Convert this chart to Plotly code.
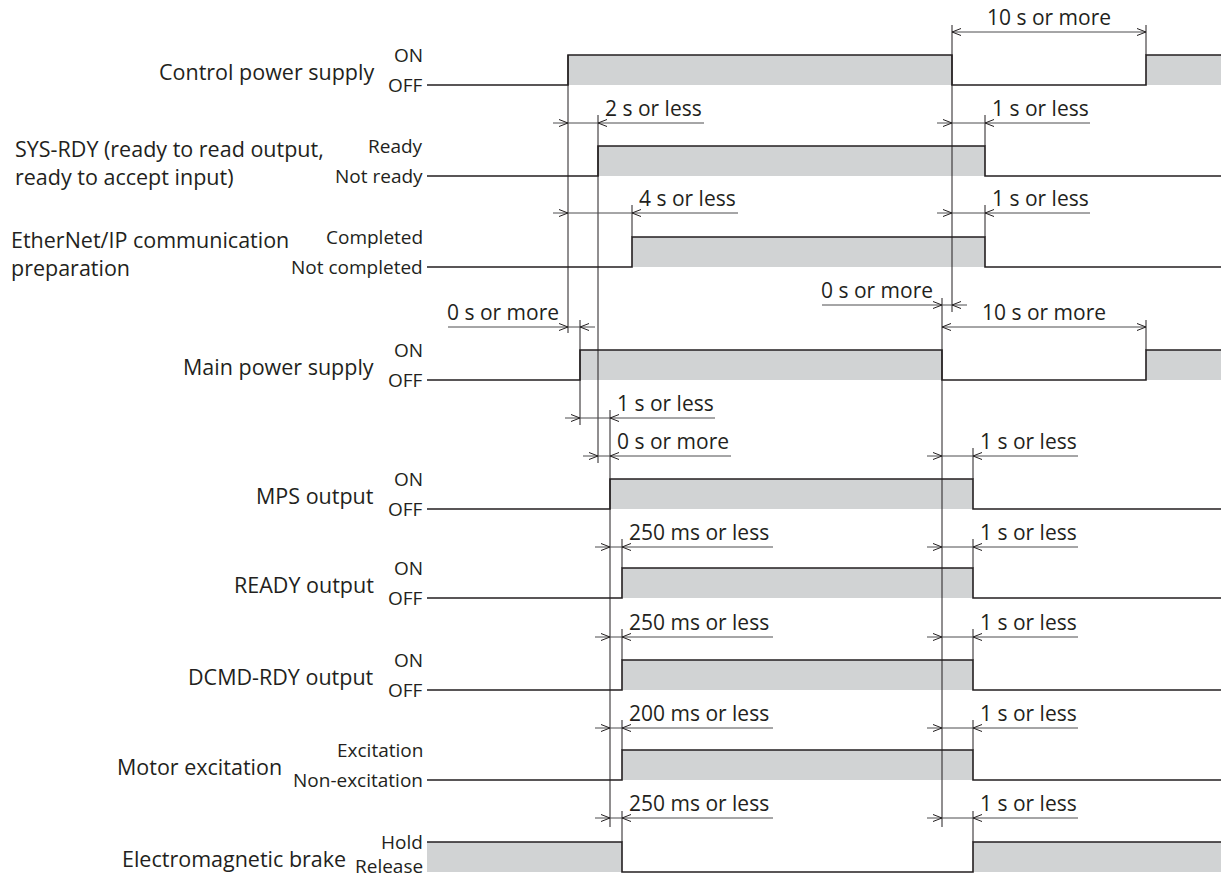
import plotly.graph_objects as go

# ---------------- data ----------------
signal_names = [
    "Control power supply",
    "SYS-RDY (ready to read output,<br>ready to accept input)",
    "EtherNet/IP communication<br>preparation",
    "Main power supply",
    "MPS output",
    "READY output",
    "DCMD-RDY output",
    "Motor excitation",
    "Electromagnetic brake",
]
state_high = ["ON", "Ready", "Completed", "ON", "ON", "ON", "ON", "Excitation", "Hold"]
state_low = ["OFF", "Not ready", "Not completed", "OFF", "OFF", "OFF", "OFF", "Non-excitation", "Release"]
initial_level = [0, 0, 0, 0, 0, 0, 0, 0, 1]
edge_times = [
    [568, 952, 1146],
    [598, 985],
    [632, 985],
    [580, 942, 1146],
    [610, 973],
    [622, 973],
    [622, 973],
    [622, 973],
    [622, 973],
]
t_start, t_end = 427, 1221

dim_texts = ["10 s or more", "2 s or less", "1 s or less", "4 s or less", "1 s or less",
             "0 s or more", "0 s or more", "10 s or more",
             "1 s or less", "0 s or more", "1 s or less",
             "250 ms or less", "1 s or less", "250 ms or less", "1 s or less",
             "200 ms or less", "1 s or less", "250 ms or less", "1 s or less"]
dim_from = [952, 568, 952, 568, 952, 568, 942, 942, 580, 598, 942, 610, 942, 610, 942, 610, 942, 610, 942]
dim_to = [1146, 598, 985, 632, 985, 580, 952, 1146, 610, 610, 973, 622, 973, 622, 973, 622, 973, 622, 973]
dim_kind = ["out", "in_r", "in_r", "in_r", "in_r", "in_l", "in_l", "out",
            "in_r", "in_r", "in_r", "in_r", "in_r", "in_r", "in_r", "in_r", "in_r", "in_r", "in_r"]

# ---------------- layout / style ----------------
W, H = 1221, 879
row_high = [55, 146, 237, 350, 479, 568, 660, 750, 842]
row_gap = 30
dim_y = [32, 123, 123, 213, 213, 327, 305, 327, 418, 456, 456, 547, 547, 637, 637, 728, 728, 818, 818]
tail_len = {"2 s or less": 106, "4 s or less": 106, "1 s or less": 105, "0 s or more": 121,
            "250 ms or less": 151, "200 ms or less": 151}
label_x = [375, 14, 10, 375, 375, 375, 375, 283, 347]
label_anchor = ["right", "left", "left", "right", "right", "right", "right", "right", "right"]
state_x = 424
max_text_y = 866  # keep the lowest label fully inside the picture

E = edge_times
verticals = [
    (E[0][0], 55, 333), (E[1][0], 115, 463), (E[3][0], 320, 425), (E[4][0], 410, 827),
    (E[2][0], 205, 237), (E[0][1], 25, 312), (E[3][1], 298, 827),
    (E[1][1], 115, 146), (E[2][1], 205, 237), (E[0][2], 25, 55), (E[3][2], 320, 350),
    (E[4][1], 448, 479),
    (E[5][0], 539, 568), (E[5][1], 539, 568),
    (E[6][0], 629, 660), (E[6][1], 629, 660),
    (E[7][0], 720, 750), (E[7][1], 720, 750),
    (E[8][0], 811, 842), (E[8][1], 811, 842),
]

FONT = "Open Sans"
INK = "#231f20"
DIMC = "#4d4d4f"
FILL = "#d1d3d4"
LABEL_SIZE = 21.5
STATE_SIZE = 19
DIM_SIZE = 21

fig = go.Figure()

fx, fy, lx, ly = [], [], [], []
for i, edges in enumerate(edge_times):
    hi, lo = row_high[i], row_high[i] + row_gap
    lvl = initial_level[i]
    times = [t_start] + edges + [t_end]
    for k in range(len(times) - 1):
        a, b = times[k], times[k + 1]
        if lvl:
            fx += [a, b, b, a, a, None]
            fy += [hi, hi, lo, lo, hi, None]
        yv = hi if lvl else lo
        lx += [a, b]
        ly += [yv, yv]
        if k < len(times) - 2:
            lvl = 1 - lvl
            lx += [b]
            ly += [hi if lvl else lo]
    lx.append(None)
    ly.append(None)

fig.add_trace(go.Scatter(x=fx, y=fy, mode="lines", fill="toself", fillcolor=FILL,
                         line=dict(width=0, color=FILL), hoverinfo="skip"))

vx, vy = [], []
for t, a, b in verticals:
    vx += [t, t, None]
    vy += [a, b, None]
fig.add_trace(go.Scatter(x=vx, y=vy, mode="lines", line=dict(color=INK, width=1), hoverinfo="skip"))

fig.add_trace(go.Scatter(x=lx, y=ly, mode="lines", line=dict(color=INK, width=1.6), hoverinfo="skip"))

dx, dy, ax_, ay_ = [], [], [], []
AL, AH = 9, 3.5
annotations = []
for txt, t1, t2, kind, y in zip(dim_texts, dim_from, dim_to, dim_kind, dim_y):
    if kind == "out":
        dx += [t1, t2, None]
        dy += [y, y, None]
        ax_ += [t1 + AL, t1, t1 + AL, None, t2 - AL, t2, t2 - AL, None]
        ay_ += [y - AH, y, y + AH, None, y - AH, y, y + AH, None]
        annotations.append(dict(x=(t1 + t2) / 2, y=y - 15, text=txt, xanchor="center"))
    else:
        if kind == "in_r":
            start, end = t1 - 15, t2 + tail_len[txt]
            annotations.append(dict(x=t2 + 6, y=y - 15, text=txt, xanchor="left"))
        else:
            start, end = t1 - 120, t2 + 15
            annotations.append(dict(x=start - 2, y=y - 15, text=txt, xanchor="left"))
        dx += [start, end, None]
        dy += [y, y, None]
        ax_ += [t1 - AL, t1, t1 - AL, None, t2 + AL, t2, t2 + AL, None]
        ay_ += [y - AH, y, y + AH, None, y - AH, y, y + AH, None]

fig.add_trace(go.Scatter(x=dx, y=dy, mode="lines", line=dict(color=DIMC, width=1), hoverinfo="skip"))
fig.add_trace(go.Scatter(x=ax_, y=ay_, mode="lines", line=dict(color=INK, width=1), hoverinfo="skip"))

ann = []
for a in annotations:
    ann.append(dict(x=a["x"], y=a["y"], text=a["text"], xanchor=a["xanchor"], yanchor="middle",
                    showarrow=False, xref="x", yref="y", borderpad=0,
                    font=dict(family=FONT, size=DIM_SIZE, color=INK)))

for i, name in enumerate(signal_names):
    hi, lo = row_high[i], row_high[i] + row_gap
    ann.append(dict(x=label_x[i], y=(hi + lo) / 2 + 1, text=name, xanchor=label_anchor[i],
                    yanchor="middle", align="left", showarrow=False, xref="x", yref="y",
                    borderpad=0, font=dict(family=FONT, size=LABEL_SIZE, color=INK)))
    ann.append(dict(x=state_x, y=hi, text=state_high[i], xanchor="right", yanchor="middle",
                    showarrow=False, xref="x", yref="y", borderpad=0,
                    font=dict(family=FONT, size=STATE_SIZE, color=INK)))
    ann.append(dict(x=state_x, y=min(lo, max_text_y), text=state_low[i], xanchor="right",
                    yanchor="middle", showarrow=False, xref="x", yref="y", borderpad=0,
                    font=dict(family=FONT, size=STATE_SIZE, color=INK)))

fig.update_layout(
    width=W, height=H,
    margin=dict(l=0, r=0, t=0, b=0),
    paper_bgcolor="white", plot_bgcolor="white",
    showlegend=False,
    hovermode=False,
    xaxis=dict(range=[0, W], visible=False, fixedrange=True),
    yaxis=dict(range=[H, 0], visible=False, fixedrange=True),
    annotations=ann,
)

fig.write_html("out.html",
               config={"displayModeBar": False, "staticPlot": True},
               post_script="document.body.style.margin='0';document.body.style.overflow='hidden';")
